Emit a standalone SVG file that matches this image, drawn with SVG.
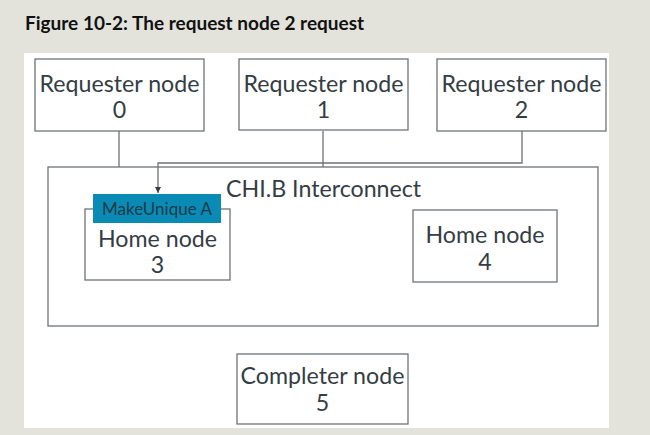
<svg xmlns="http://www.w3.org/2000/svg" width="650" height="435" viewBox="0 0 650 435">
<defs>
<style>
.box{fill:#fff;stroke:#6d7378;stroke-width:1.3}
.t{font-family:Lato,"Liberation Sans",sans-serif;font-size:23.2px;fill:#343d44;text-anchor:middle}
.c{fill:none;stroke:#6d7378;stroke-width:1.3}
</style>
<marker id="ah" markerWidth="8" markerHeight="8" refX="6" refY="3" orient="auto" markerUnits="userSpaceOnUse"><path d="M0,0 L6,3 L0,6 Z" fill="#343d44"/></marker>
</defs>
<rect width="650" height="435" fill="#e3e3dc"/>
<rect x="24" y="53" width="585" height="375" fill="#fff"/>
<text x="25" y="30" font-family="Lato,'Liberation Sans',sans-serif" font-weight="bold" font-size="19" fill="#111">Figure 10-2: The request node 2 request</text>
<g id="interconnect">
<rect class="box" x="48" y="167" width="550" height="159"/>
<text x="226" y="197" font-family="Lato,'Liberation Sans',sans-serif" font-size="23.2" fill="#343d44">CHI.B Interconnect</text>
</g>
<g id="connectors">
<path class="c" d="M119,131 V167"/>
<path class="c" d="M323,131 V167"/>
<path class="c" d="M522,131 V163 H158 V193" marker-end="url(#ah)"/>
</g>
<g id="rn0"><rect class="box" x="35" y="59" width="169" height="72"/><text class="t" x="119.5" y="92">Requester node</text><text class="t" x="119.5" y="118">0</text></g>
<g id="rn1"><rect class="box" x="239" y="59" width="169" height="71"/><text class="t" x="323.5" y="92">Requester node</text><text class="t" x="323.5" y="118">1</text></g>
<g id="rn2"><rect class="box" x="437" y="59" width="169" height="72"/><text class="t" x="521.5" y="92">Requester node</text><text class="t" x="521.5" y="118">2</text></g>
<g id="hn3"><rect class="box" x="85" y="209" width="145" height="71"/><text class="t" x="157.5" y="247">Home node</text><text class="t" x="157.5" y="273">3</text></g>
<g id="makeunique"><rect x="93" y="194" width="128" height="29" fill="#0a8bb5"/><text x="157" y="215" font-family="Lato,'Liberation Sans',sans-serif" font-size="17" fill="#1f3a48" text-anchor="middle">MakeUnique A</text></g>
<g id="hn4"><rect class="box" x="413" y="210" width="144" height="72"/><text class="t" x="485" y="243">Home node</text><text class="t" x="485" y="270">4</text></g>
<g id="cn5"><rect class="box" x="237" y="354" width="171" height="70"/><text class="t" x="322.5" y="384">Completer node</text><text class="t" x="322.5" y="411">5</text></g>
</svg>
